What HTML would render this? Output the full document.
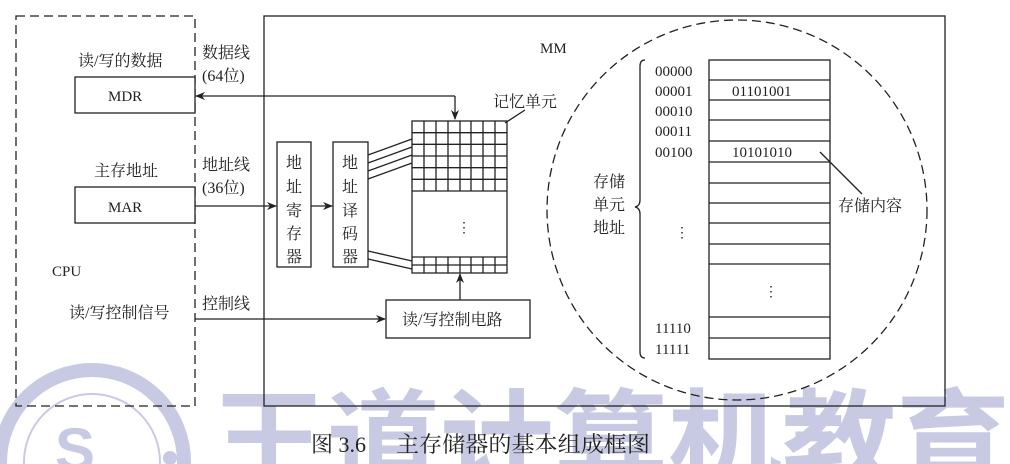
<!DOCTYPE html>
<html><head><meta charset="utf-8"><style>
html,body{margin:0;padding:0;background:#fff;width:1010px;height:464px;overflow:hidden;}
svg{display:block;}
text{font-family:"Liberation Serif","Noto Serif CJK SC","Noto Sans CJK SC",serif;fill:#222;}
</style></head><body>
<svg width="1010" height="464" viewBox="0 0 1010 464" xmlns="http://www.w3.org/2000/svg">
<defs>
<marker id="ar" markerWidth="10" markerHeight="8" refX="9" refY="4" orient="auto" markerUnits="userSpaceOnUse">
<path d="M0,0 L10,4 L0,8 L3,4 z" fill="#222"/></marker>
</defs>
<g fill="#c8cae3" stroke="none">
<circle cx="92" cy="462" r="92" fill="none" stroke="#c8cae3" stroke-width="14"/>
<circle cx="92" cy="462" r="68" fill="none" stroke="#c8cae3" stroke-width="2"/>
<text x="55" y="470" style="font-family:'Liberation Sans',sans-serif;font-weight:bold;fill:#c8cae3" font-size="60">S</text>
<circle cx="170" cy="458" r="7"/>
</g>
<text x="212" y="478" font-size="106" style="font-family:'Noto Sans CJK SC',sans-serif;font-weight:bold;fill:#c8cae3" textLength="798" lengthAdjust="spacingAndGlyphs">王道计算机教育</text>

<g stroke="#222" stroke-width="1.3" fill="none">
<rect x="16" y="16" width="179" height="390" stroke-dasharray="9,5"/>
<rect x="264" y="16" width="681" height="390"/>
<rect x="75" y="77" width="120" height="36" fill="#fff"/>
<rect x="75" y="187" width="120" height="36" fill="#fff"/>
<rect x="277" y="142" width="34" height="125" fill="#fff"/>
<rect x="333" y="142" width="35" height="125" fill="#fff"/>
<rect x="386" y="300" width="144" height="38" fill="#fff"/>
<path d="M455,96 L196,96" marker-end="url(#ar)"/>
<path d="M455,96 L455,119" marker-end="url(#ar)"/>
<path d="M195,206 L276,206" marker-end="url(#ar)"/>
<path d="M311,206 L332,206" marker-end="url(#ar)"/>
<path d="M195,319 L385,319" marker-end="url(#ar)"/>
<path d="M460,300 L460,274" marker-end="url(#ar)"/>
<path d="M368,155 L412,139 M368,163 L412,147 M368,171 L412,155 M368,179 L412,163"/>
<path d="M368,251 L412,261 M368,259 L412,269"/>
<rect x="412" y="121" width="95" height="152"/>
<path d="M412,132.7 H507 M412,144.3 H507 M412,156 H507 M412,167.7 H507 M412,179.3 H507 M412,191 H507 M412,257 H507 M412,265 H507"/>
<path d="M424,121 V191 M436,121 V191 M448,121 V191 M460,121 V191 M471,121 V191 M483,121 V191 M495,121 V191"/>
<path d="M424,257 V273 M436,257 V273 M448,257 V273 M460,257 V273 M471,257 V273 M483,257 V273 M495,257 V273"/>
<path d="M505,123 L525,110"/>
<circle cx="737" cy="210" r="190" stroke-dasharray="9,5"/>
<rect x="709" y="60" width="121" height="299" fill="#fff"/>
<path d="M709,80 H830 M709,100 H830 M709,120 H830 M709,141 H830 M709,162 H830 M709,183 H830 M709,203 H830 M709,223 H830 M709,244 H830 M709,264 H830 M709,317 H830 M709,338 H830"/>
<path d="M820,152 L862,194"/>
<path d="M645,60 Q640,60 640,66 L640,200 Q640,206 635,207 Q640,208 640,214 L640,352 Q640,358 645,358"/>
</g>

<g font-size="16">
<text x="78" y="66">读/写的数据</text>
<text x="202" y="58">数据线</text>
<text x="202" y="81">(64位)</text>
<text x="108" y="101" font-size="15">MDR</text>
<text x="94" y="176">主存地址</text>
<text x="202" y="170">地址线</text>
<text x="202" y="193">(36位)</text>
<text x="108" y="212" font-size="15">MAR</text>
<text x="52" y="276" font-size="15">CPU</text>
<text x="69" y="318">读/写控制信号</text>
<text x="202" y="309">控制线</text>
<text x="540" y="53" font-size="15">MM</text>
<text x="286" y="168">地</text><text x="286" y="192">址</text><text x="286" y="216">寄</text><text x="286" y="239">存</text><text x="286" y="262">器</text>
<text x="342" y="168">地</text><text x="342" y="192">址</text><text x="342" y="216">译</text><text x="342" y="239">码</text><text x="342" y="262">器</text>
<text x="402" y="325">读/写控制电路</text>
<text x="493" y="107">记忆单元</text>
<text x="457" y="232" font-size="14">⋮</text>
<text x="593" y="187">存储</text>
<text x="593" y="210">单元</text>
<text x="593" y="233">地址</text>
<text x="838" y="211">存储内容</text>
</g>
<g font-size="15">
<text x="655" y="76">00000</text>
<text x="655" y="96">00001</text>
<text x="655" y="116">00010</text>
<text x="655" y="136">00011</text>
<text x="655" y="157">00100</text>
<text x="655" y="333">11110</text>
<text x="655" y="354">11111</text>
<text x="732" y="96">01101001</text>
<text x="732" y="157">10101010</text>
<text x="675" y="237" font-size="14">⋮</text>
<text x="764" y="296" font-size="14">⋮</text>
</g>
<text x="311" y="452" font-size="22">图 3.6</text>
<text x="396" y="452" font-size="22" textLength="254" lengthAdjust="spacingAndGlyphs">主存储器的基本组成框图</text>
</svg>
</body></html>
